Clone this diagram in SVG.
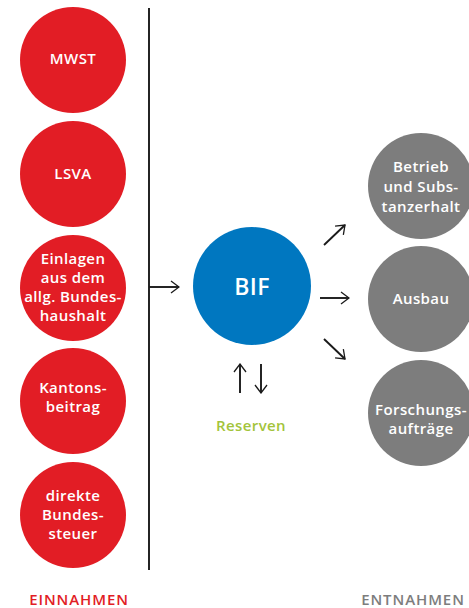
<svg xmlns="http://www.w3.org/2000/svg" width="469" height="608" viewBox="0 0 469 608">
<defs>
<style>
.red{fill:#e21d25}
.gray{fill:#7d7d7d}
.blue{fill:#0077c0}
.lbl{font-family:"Open Sans","Noto Sans",sans-serif;font-size:15px;font-weight:600;fill:#ffffff;text-anchor:middle;letter-spacing:0.4px}
.big{font-size:23px;font-weight:600}
.conn{stroke:#1a1a1a;stroke-width:1.9;fill:none}
.foot{font-family:"Open Sans","Noto Sans",sans-serif;font-size:15px;font-weight:600;text-anchor:middle;letter-spacing:0.9px}
</style>
<marker id="ah" viewBox="0 0 14 14" refX="13" refY="7" markerWidth="14" markerHeight="14" markerUnits="userSpaceOnUse" orient="auto">
<path d="M5,1 L13,7 L5,13" fill="none" stroke="#1a1a1a" stroke-width="1.3"/>
</marker>
</defs>
<rect width="469" height="608" fill="#ffffff"/>
<g id="mwst"><circle class="red" cx="73" cy="60" r="53"/><text class="lbl" x="73" y="64">MWST</text></g>
<g id="lsva"><circle class="red" cx="73" cy="174" r="53"/><text class="lbl" x="73" y="179">LSVA</text></g>
<g id="einlagen"><circle class="red" cx="73" cy="288" r="53"/><text class="lbl" x="73" y="264">Einlagen</text><text class="lbl" x="73" y="283">aus dem</text><text class="lbl" x="73" y="302">allg. Bundes-</text><text class="lbl" x="73" y="321">haushalt</text></g>
<g id="kantons"><circle class="red" cx="73" cy="401" r="53"/><text class="lbl" x="73" y="393">Kantons-</text><text class="lbl" x="73" y="412">beitrag</text></g>
<g id="direkte"><circle class="red" cx="73" cy="515" r="53"/><text class="lbl" x="73" y="501">direkte</text><text class="lbl" x="73" y="520">Bundes-</text><text class="lbl" x="73" y="539">steuer</text></g>
<g id="bif"><circle class="blue" cx="252" cy="286" r="59"/><text class="lbl big" x="252" y="295">BIF</text></g>
<g id="betrieb"><circle class="gray" cx="421" cy="186" r="53"/><text class="lbl" x="421" y="172">Betrieb</text><text class="lbl" x="421" y="192">und Subs-</text><text class="lbl" x="421" y="212">tanzerhalt</text></g>
<g id="ausbau"><circle class="gray" cx="421" cy="299" r="53"/><text class="lbl" x="421" y="304">Ausbau</text></g>
<g id="forschung"><circle class="gray" cx="421" cy="413" r="53"/><text class="lbl" x="421" y="415">Forschungs-</text><text class="lbl" x="421" y="434">aufträge</text></g>
<g id="reserven"><text x="251" y="431" font-family="'Open Sans','Noto Sans',sans-serif" font-size="15" font-weight="600" letter-spacing="0.4" fill="#a3c43b" text-anchor="middle">Reserven</text></g>
<g id="connectors">
<line class="conn" x1="149" y1="8" x2="149" y2="570" stroke-width="2"/>
<line class="conn" x1="149" y1="287" x2="179" y2="287" marker-end="url(#ah)"/>
<line class="conn" x1="320" y1="298" x2="349" y2="298" marker-end="url(#ah)"/>
<line class="conn" x1="324" y1="245" x2="345" y2="225" marker-end="url(#ah)"/>
<line class="conn" x1="324" y1="339" x2="345" y2="359" marker-end="url(#ah)"/>
<line class="conn" x1="240" y1="393" x2="240" y2="364" marker-end="url(#ah)"/>
<line class="conn" x1="261" y1="364" x2="261" y2="393" marker-end="url(#ah)"/>
</g>
<text class="foot" x="79" y="605" fill="#e21d25">EINNAHMEN</text>
<text class="foot" x="413" y="605" fill="#7d7d7d">ENTNAHMEN</text>
</svg>
